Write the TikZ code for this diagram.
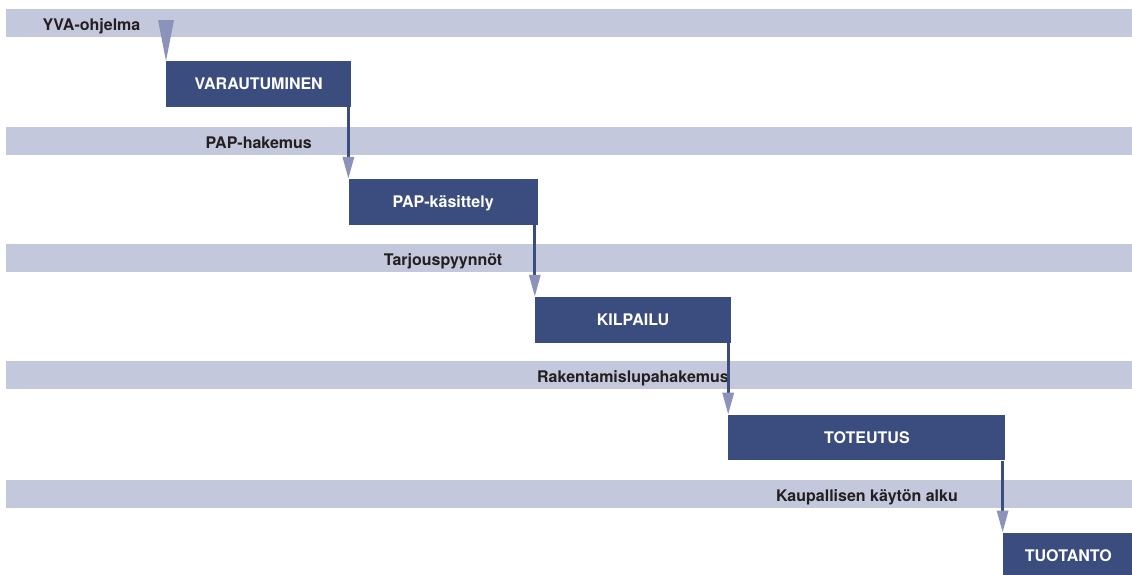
\documentclass[tikz,border=0pt]{standalone}
\usepackage{fontspec}
\setmainfont{TeX Gyre Heros}
\usepackage{tikz}
\usetikzlibrary{arrows.meta, positioning}
\definecolor{bandc}{RGB}{196,200,220}
\definecolor{phasec}{RGB}{59,77,126}
\definecolor{tipc}{RGB}{139,147,186}
\definecolor{labelc}{RGB}{35,31,32}
\tikzset{>={Triangle[width=11pt,length=22pt,color=tipc,fill=tipc]}}

\begin{document}
\begin{tikzpicture}[x = 1pt, y = -1pt, node distance = 72pt and -3pt,
	band/.style = {fill=bandc, minimum width=1126pt, minimum height=28pt, inner sep=0pt, anchor=north west},
	phase/.style = {fill=phasec, text=white, font=\bfseries\fontsize{16}{18}\selectfont, minimum height=45.5pt, inner sep=0pt, text height=11.6pt, text depth=0pt},
	milestone/.style = {text=labelc, font=\bfseries\fontsize{16}{18}\selectfont, inner sep=0pt, anchor=base, yshift=7pt}]
			\useasboundingbox (0,0) rectangle (1132,574);
			\foreach \y [count=\i] in {9,127,244,361,480}
				\node (b\i) [band] at (6,\y) {};
			\node (var) [phase, anchor=north west, minimum width=185pt] at (166,61) {VARAUTUMINEN};
			\node (pap) [phase, below right = of var.south east, minimum width=189pt] {PAP-käsittely};
			\node (kil) [phase, below right = of pap.south east, minimum width=196pt] {KILPAILU};
			\node (tot) [phase, below right = of kil.south east, minimum width=277pt] {TOTEUTUS};
			\node (tuo) [phase, below right = of tot.south east, minimum width=131pt] {TUOTANTO};
			\node (l1) [milestone] at (91.5,37) {YVA-ohjelma};
			\node (l2) [milestone] at (var |- b2.south) {PAP-hakemus};
			\node (l3) [milestone] at (pap |- b3.south) {Tarjouspyynnöt};
			\node (l4) [milestone] at (kil |- b4.south) {Rakentamislupahakemus};
			\node (l5) [milestone] at (tot |- b5.south) {Kaupallisen käytön alku};
			\coordinate (start) at ([yshift=41pt]var.north west);
			\draw[tipc, line width=0pt, -{Triangle[width=16pt,length=41pt]}] (start) -- (var.north west);
			\path[->, phasec, line width=3pt]
			(pap.north west |- var.south) edge (pap.north west)
			(kil.north west |- pap.south) edge (kil.north west)
			(tot.north west |- kil.south) edge (tot.north west)
			(tuo.north west |- tot.south) edge (tuo.north west);
\end{tikzpicture}
\end{document}
